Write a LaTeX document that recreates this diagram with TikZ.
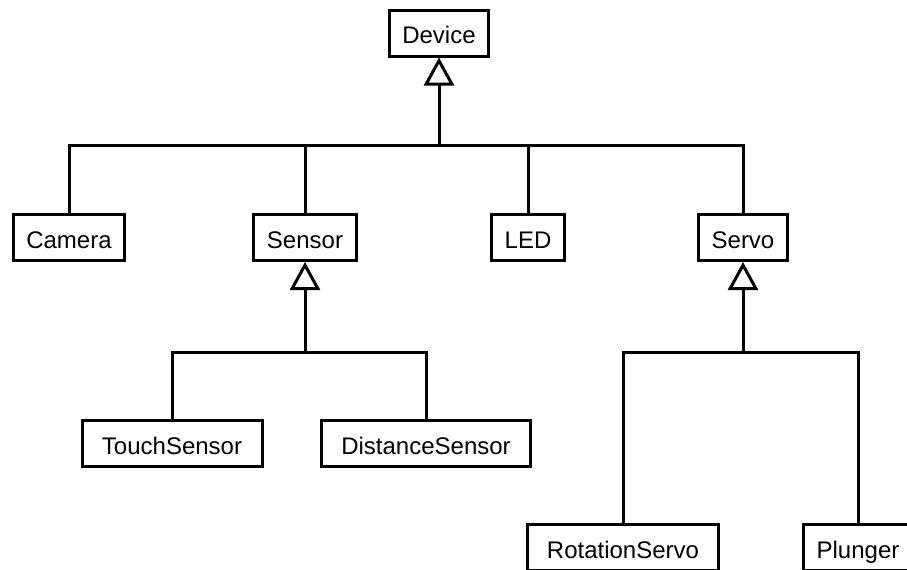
\documentclass[tikz,border=0pt]{standalone}
\usepackage{fontspec}
\setmainfont{Liberation Sans}
\usetikzlibrary{arrows.meta}

\begin{document}
\begin{tikzpicture}[x=0.5pt,y=-0.5pt,line width=1.5pt,
   class/.style={draw,rectangle,minimum height=23pt,inner xsep=6.5pt,inner ysep=2pt,
     text height=1.25em,text depth=0.2em,font=\fontsize{12}{14}\selectfont},
   isa/.style={-{Triangle[open,length=14pt,width=15pt]}}]
  \clip (0,0) rectangle (907,569);
  % classes
  \node[class] (dev) at (439,33) {Device};
  \node[class] (cam) at (69,237.5) {Camera};
  \node[class] (sen) at (305,237.5) {Sensor};
  \node[class] (led) at (528,237.5) {LED};
  \node[class] (srv) at (743,237.5) {Servo};
  \node[class,minimum width=90pt] (tch) at (172,443.5) {TouchSensor};
  \node[class,minimum width=104.5pt] (dst) at (426,443.5) {DistanceSensor};
  \node[class,minimum width=95.5pt] (rot) at (623,547.5) {RotationServo};
  \node[class] (plg) at (858,547.5) {Plunger};
  % junctions
  \coordinate (devbar) at (439,145);
  \coordinate (senbar) at (305,352);
  \coordinate (srvbar) at (743,352);
  % generalisations
  \draw[isa] (devbar) -- (dev.south);
  \draw (cam.north) |- (devbar);
  \draw (sen.north) |- (devbar);
  \draw (led.north) |- (devbar);
  \draw (srv.north) |- (devbar);
  \draw[isa] (senbar) -- (sen.south);
  \draw (tch.north) |- (senbar);
  \draw (dst.north) |- (senbar);
  \draw[isa] (srvbar) -- (srv.south);
  \draw (rot.north) |- (srvbar);
  \draw (plg.north) |- (srvbar);
\end{tikzpicture}
\end{document}
